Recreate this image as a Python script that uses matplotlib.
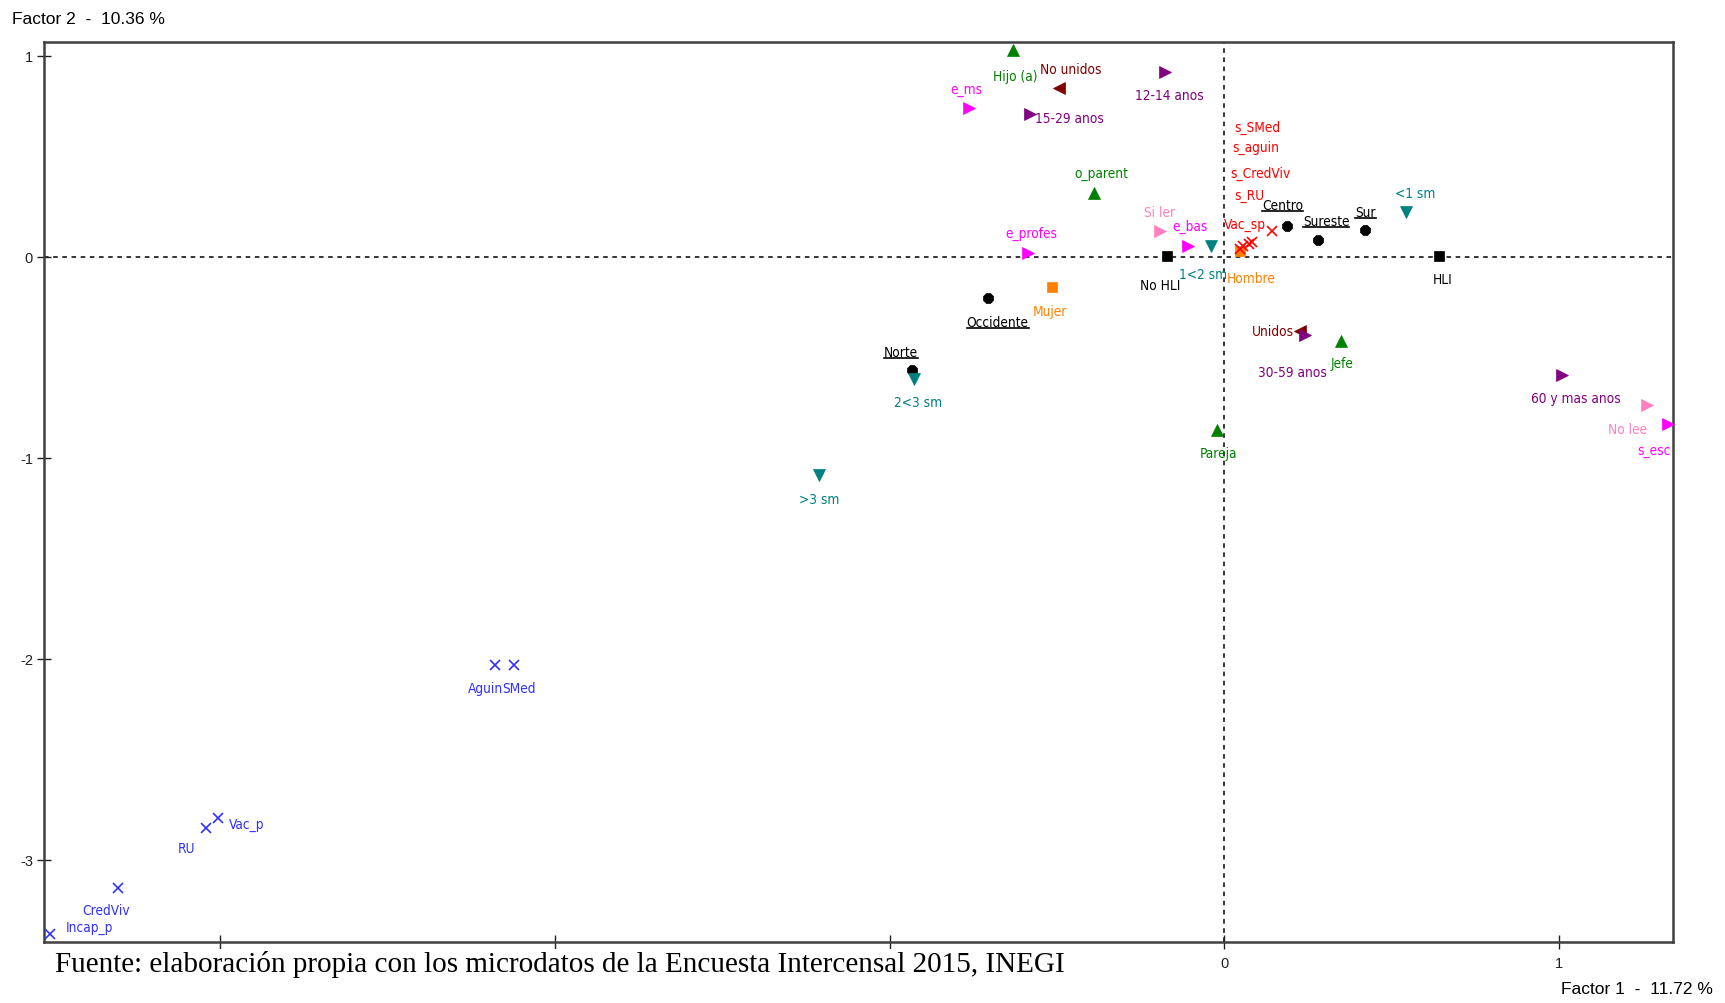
import matplotlib
matplotlib.use('Agg')
import matplotlib.pyplot as plt
from matplotlib import font_manager
from matplotlib.font_manager import FontProperties
from matplotlib.lines import Line2D

# fuente angosta si existe (Arial Narrow en el original)
_files = [f.fname for f in font_manager.fontManager.ttflist]
def _buscar(*claves):
    for c in claves:
        for fn in _files:
            if c in fn:
                return fn
    return None
_narrow = _buscar('LiberationSansNarrow-Regular', 'DejaVuSansCondensed.ttf')
if _narrow:
    FP = FontProperties(fname=_narrow, size=10.5 if 'Liberation' in _narrow else 9.8)
else:
    FP = FontProperties(family='Liberation Sans', size=9.8)
plt.rcParams['font.family'] = ['Liberation Sans', 'DejaVu Sans']

# ═══ datos: coordenadas factoriales ═══
names = ['Hijo (a)', 'No unidos', '12-14 anos', 'e_ms', '15-29 anos', 'o_parent',
         'Si ler', 'e_bas', '1<2 sm', 'No HLI', 'e_profes', 'Mujer', 'Occidente',
         'Norte', '2<3 sm', '>3 sm', 'Pareja', 'Hombre',
         's_RU', 's_CredViv', 's_aguin', 's_SMed', 'Vac_sp',
         'Centro', 'Sureste', 'Sur', '<1 sm', 'HLI', 'Unidos', '30-59 anos', 'Jefe',
         '60 y mas anos', 'No lee', 's_esc',
         'Aguin', 'SMed', 'Vac_p', 'RU', 'CredViv', 'Incap_p']
f1 = [-0.631, -0.493, -0.178, -0.763, -0.582, -0.391,
      -0.194, -0.108, -0.039, -0.171, -0.588, -0.516, -0.707,
      -0.934, -0.927, -1.210, -0.023, 0.046,
      0.046, 0.056, 0.072, 0.082, 0.141,
      0.187, 0.279, 0.421, 0.542, 0.641, 0.227, 0.240, 0.348,
      1.009, 1.262, 1.325,
      -2.180, -2.124, -3.008, -3.044, -3.307, -3.508]
f2 = [1.029, 0.837, 0.920, 0.739, 0.712, 0.317,
      0.126, 0.055, 0.055, 0.005, 0.016, -0.153, -0.208,
      -0.564, -0.608, -1.089, -0.865, 0.027,
      0.038, 0.052, 0.062, 0.071, 0.126,
      0.153, 0.082, 0.131, 0.224, 0.005, -0.372, -0.389, -0.421,
      -0.591, -0.739, -0.832,
      -2.031, -2.031, -2.791, -2.841, -3.142, -3.372]
grupo = ['parent', 'union', 'edad', 'esc', 'edad', 'parent',
         'lee', 'esc', 'ingreso', 'lengua', 'esc', 'sexo', 'region',
         'region', 'ingreso', 'ingreso', 'parent', 'sexo',
         'sin_prest', 'sin_prest', 'sin_prest', 'sin_prest', 'sin_prest',
         'region', 'region', 'region', 'ingreso', 'lengua', 'union', 'edad', 'parent',
         'edad', 'lee', 'esc',
         'prest', 'prest', 'prest', 'prest', 'prest', 'prest']

# desplazamiento de etiquetas (puntos)
offs = [(1.6, -19), (8, 14), (3, -17), (-1.6, 14), (28.5, -3), (5.5, 14),
        (0, 14), (1, 14), (-6, -20.6), (-5, -21), (3, 15), (-1, -17), (7, -17),
        (-8, 13), (3, -17), (0, -17), (1.6, -16), (8, -19),
        (7, 39), (12.7, 52.7), (5.5, 70), (4, 83), (-19, 5),
        (-3, 15), (6, 13.5), (0, 13.5), (7, 13.5), (2.4, -17), (-20, 0), (-9, -27), (1, -16),
        (10, -16), (-14, -17), (-10, -19),
        (-7, -17), (4, -17), (21, -5), (-14, -15), (-8, -16), (28.5, 5.5)]

estilo = {
    'parent':    ('^', '#008000', 8),
    'union':     ('<', '#800000', 8),
    'edad':      ('>', '#800080', 8),
    'esc':       ('>', '#FF00FF', 8),
    'lee':       ('>', '#FF80C0', 8),
    'ingreso':   ('v', '#008080', 8),
    'lengua':    ('s', '#000000', 7),
    'sexo':      ('s', '#FF8000', 7),
    'region':    ('8', '#000000', 7.5),
    'sin_prest': ('x', '#FF0000', 7),
    'prest':     ('x', '#3030FF', 7),
}

fig = plt.figure(figsize=(17.25, 10.04), dpi=100)
fig.patch.set_facecolor('white')
ax = fig.add_axes([0.0255, 0.0608, 0.9445, 0.8962])

ax.axhline(0, color='black', linestyle=(0, (3, 3)), linewidth=1.1, zorder=1)
ax.axvline(0, color='black', linestyle=(0, (3, 3)), linewidth=1.1, zorder=1)

region_txt = []
for n, x, y, g, (dx, dy) in zip(names, f1, f2, grupo, offs):
    mk, col, ms = estilo[g]
    ax.plot([x], [y], marker=mk, color=col, markersize=ms, linestyle='none',
            markeredgewidth=1.2 if mk == 'x' else 0.5, clip_on=False, zorder=3)
    t = ax.annotate(n, xy=(x, y), xytext=(dx, dy), textcoords='offset points',
                    ha='center', va='center', fontproperties=FP,
                    color='black' if g == 'region' else col, zorder=4)
    if g == 'region':
        region_txt.append(t)

ax.set_xlim(-3.527, 1.341)
ax.set_ylim(-3.41, 1.067)
ax.set_xticks([-3, -2, -1, 0, 1])
ax.set_yticks([-3, -2, -1, 0, 1])
# las etiquetas -3..-1 quedan tapadas por la nota de fuente
ax.set_xticklabels(['', '', '', '0', '1'])
ax.set_yticklabels(['-3', '-2', '-1', '0', '1'])
ax.tick_params(direction='inout', length=10, width=1, labelsize=10.5,
               colors='#202020', pad=5)
ax.tick_params(axis='y', pad=3)
for s in ax.spines.values():
    s.set_color('#404040')
    s.set_linewidth(1.8)

fig.text(0.007, 0.981, 'Factor 2  -  10.36 %', fontsize=12.5, ha='left', va='center')
fig.text(0.993, 0.014, 'Factor 1  -  11.72 %', fontsize=12.5, ha='right', va='center')
fig.text(0.032, 0.039,
         'Fuente: elaboración propia con los microdatos de la Encuesta Intercensal 2015, INEGI',
         fontsize=21, family='Liberation Serif', ha='left', va='center', zorder=5,
         bbox=dict(facecolor='white', edgecolor='none', pad=1))

# subrayado de regiones
fig.canvas.draw()
r = fig.canvas.get_renderer()
inv = fig.transFigure.inverted()
for t in region_txt:
    bb = t.get_window_extent(r)
    (x0, y0), (x1, _) = inv.transform([(bb.x0, bb.y0 + 1), (bb.x1, bb.y0 + 1)])
    fig.add_artist(Line2D([x0, x1], [y0, y0], color='black', linewidth=1.2))

plt.savefig('out.png', dpi=100)
plt.close()
